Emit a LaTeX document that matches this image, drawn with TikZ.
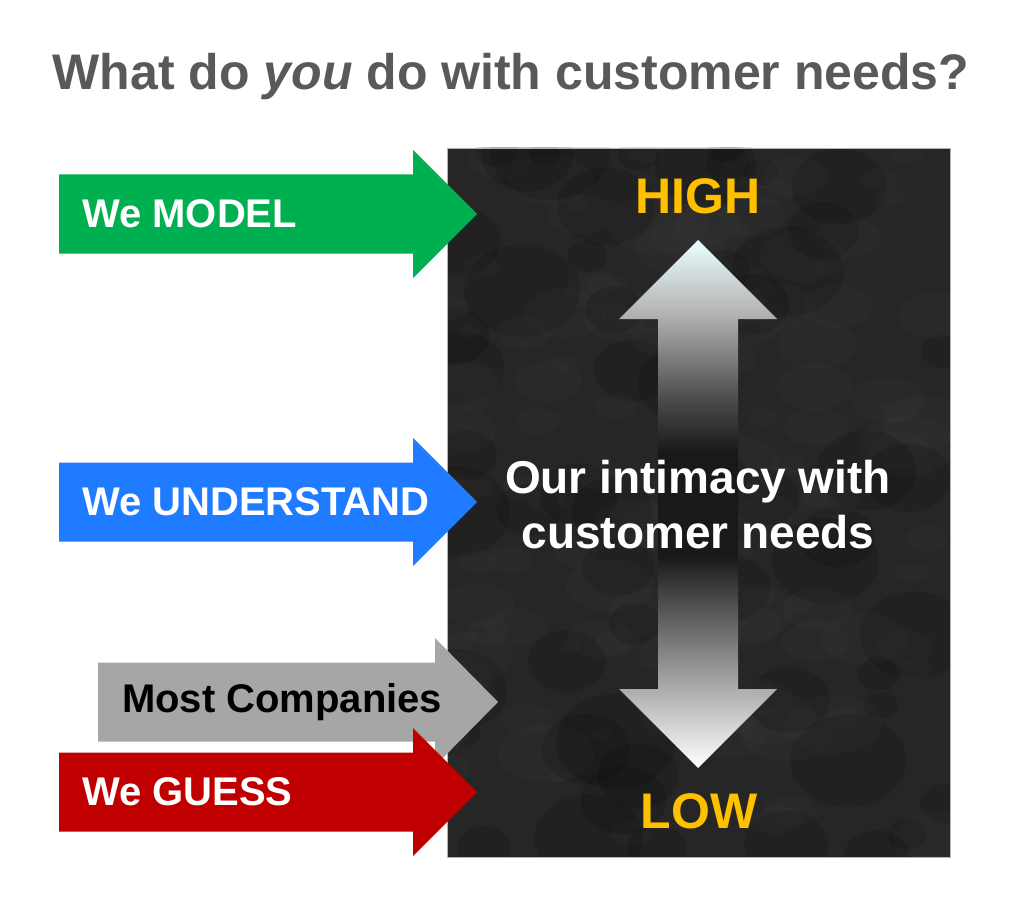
\documentclass[tikz,border=0pt]{standalone}
\usepackage{fontspec}
\setmainfont{Liberation Sans}
\usetikzlibrary{positioning}
\definecolor{titlegray}{HTML}{595959}
\definecolor{modelgreen}{HTML}{00B050}
\definecolor{understandblue}{HTML}{1F7BFF}
\definecolor{mostgray}{HTML}{A6A6A6}
\definecolor{guessred}{HTML}{C00000}
\definecolor{levelgold}{HTML}{FFC000}
\definecolor{board}{HTML}{262626}
\pgfdeclareverticalshading{intimacy}{100bp}{color(0bp)=(white); color(25bp)=(white); color(32bp)=(black!30); color(39bp)=(black!62); color(45bp)=(black!90); color(55bp)=(black!90); color(60bp)=(black!70); color(66bp)=(black!40); color(68bp)=(black!30); color(75bp)=(white!92!cyan); color(100bp)=(white)}
\begin{document}
\begin{tikzpicture}[x=1pt, y=-1pt, arrow label/.style={anchor=west, inner sep=0pt, font=\bfseries\fontsize{40}{43}\selectfont}, level label/.style={text=levelgold, inner sep=0pt, font=\bfseries\fontsize{50}{53}\selectfont}]
	\useasboundingbox[fill=white] (0,0) rectangle (1024,896);
	\node[text=titlegray, font=\bfseries\fontsize{50}{54}\selectfont, inner sep=0pt] (title) at (511, 77) {What do \textit{you} do with customer needs?};
	% board with some texture
	\fill[board] (447,148) rectangle (950,857);
	\begin{scope}
	\clip (447,148) rectangle (950,857);
	\pgfmathsetseed{11}
	\foreach \i in {1,...,120}{
		\pgfmathsetmacro{\bx}{447+503*rnd}
		\pgfmathsetmacro{\by}{148+709*rnd}
		\pgfmathsetmacro{\br}{10+40*rnd}
		\fill[gray, opacity=0.035] (\bx,\by) ellipse ({\br} and {0.6*\br});
	}
	\foreach \i in {1,...,60}{
		\pgfmathsetmacro{\bx}{447+503*rnd}
		\pgfmathsetmacro{\by}{148+709*rnd}
		\pgfmathsetmacro{\br}{15+45*rnd}
		\fill[black, opacity=0.12] (\bx,\by) ellipse ({\br} and {0.8*\br});
	}
	\end{scope}
	\draw[gray!60, line width=0.8pt] (447,148) rectangle (950,857);
	% double arrow
	\shade[shading=intimacy] (698,240) -- (777,319) -- (738,319) -- (738,689) -- (777,689) -- (698,768) -- (619,689) -- (658,689) -- (658,319) -- (619,319) -- cycle;
	\node[level label] (high) at (698,196) {HIGH};
	\node[level label] (low) at (699,811) {LOW};
	\node[text=white, align=center, inner sep=0pt, font=\bfseries\fontsize{46}{55}\selectfont] (intimacy) at (698,505) {Our intimacy with\\customer needs};
	% arrows from the left
	\foreach \xa/\xb/\xc/\yc/\col in {59/413/477/214/modelgreen, 59/413/477/502/understandblue, 98/435/498/702/mostgray, 59/413/477/792/guessred}
	\fill[\col] (\xa,\yc-39.5) -- (\xb,\yc-39.5) -- (\xb,\yc-64) -- (\xc,\yc) -- (\xb,\yc+64) -- (\xb,\yc+39.5) -- (\xa,\yc+39.5) -- cycle;
	\node[arrow label, text=white] (model) at (82,214) {We MODEL};
	\node[arrow label, text=white] (understand) at (82,502) {We UNDERSTAND};
	\node[arrow label, text=black] (most) at (122,702) {Most Companies};
	\node[arrow label, text=white] (guess) at (82,792) {We GUESS};
\end{tikzpicture}
\end{document}
